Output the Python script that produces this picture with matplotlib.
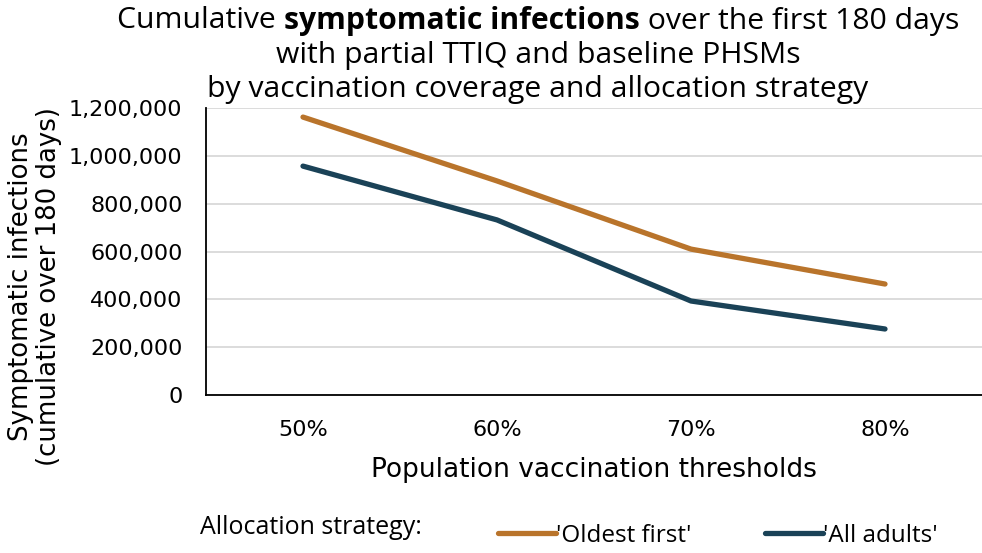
import numpy as np
import matplotlib
matplotlib.use("Agg")
import matplotlib.pyplot as plt
from matplotlib.lines import Line2D

plt.rcParams['font.family'] = ['DejaVu Sans']
narrow = ['Open Sans', 'DejaVu Sans']

# data
thresholds = ['50%', '60%', '70%', '80%']
oldest_first = [1162000, 895000, 610000, 464000]
all_adults = [957000, 732000, 393000, 276000]
series_names = ["'Oldest first'", "'All adults'"]
colors = ['#B9742B', '#1A4257']

fig = plt.figure(figsize=(9.82, 5.53), dpi=100)
ax = fig.add_axes([206 / 982, 1 - 395 / 553, (982 - 206) / 982, (395 - 108) / 553])

x = np.arange(len(thresholds))
ax.plot(x, oldest_first, color=colors[0], lw=3.8, solid_capstyle='round', solid_joinstyle='round')
ax.plot(x, all_adults, color=colors[1], lw=3.8, solid_capstyle='round', solid_joinstyle='round')

ax.set_xlim(-0.5, 3.5)
ax.set_ylim(0, 1200000)
ax.set_yticks(np.arange(0, 1200001, 200000))
ax.set_yticklabels([f'{v:,}' for v in range(0, 1200001, 200000)], fontsize=16)
ax.set_xticks(x)
ax.set_xticklabels(thresholds, fontsize=16)
ax.tick_params(axis='y', length=0, pad=17)
ax.tick_params(axis='x', length=0, pad=18)
ax.yaxis.grid(True, color='#d9d9d9', lw=1.3)
ax.set_axisbelow(True)
for s in ['top', 'right']:
    ax.spines[s].set_visible(False)
ax.spines['left'].set_linewidth(1.3)
ax.spines['bottom'].set_linewidth(1.3)

ax.set_xlabel('Population vaccination thresholds', fontsize=19, labelpad=12)
ax.set_ylabel('Symptomatic infections\n(cumulative over 180 days)', fontsize=18.7,
              linespacing=1.1, va='center')
ax.yaxis.set_label_coords((35 - 206) / 776, (395 - 287) / 287)

# title, with the middle part of line 1 in bold
fig.canvas.draw()
r = fig.canvas.get_renderer()
tsize = 21.7
parts = [('Cumulative ', 'normal'), ('symptomatic infections', 'bold'),
         (' over the first 180 days', 'normal')]
widths = []
for s, w in parts:
    t = fig.text(0, 0, s.replace(' ', '\u00a0'), fontsize=tsize, fontweight=w, family=narrow)
    widths.append(t.get_window_extent(r).width)
    t.remove()
cx = 538
xpos = cx - sum(widths) / 2
for (s, w), wd in zip(parts, widths):
    fig.text(xpos / 982, 1 - 21 / 553, s.replace(' ', '\u00a0'), fontsize=tsize,
             fontweight=w, va='center', ha='left', family=narrow)
    xpos += wd
fig.text(cx / 982, 1 - 55 / 553, 'with partial TTIQ and baseline PHSMs',
         fontsize=tsize, ha='center', va='center', family=narrow)
fig.text(cx / 982, 1 - 89 / 553, 'by vaccination coverage and allocation strategy',
         fontsize=tsize, ha='center', va='center', family=narrow)

# legend
fig.text(200 / 982, 1 - 528 / 553, 'Allocation strategy:', fontsize=18, va='center', family=narrow)
handles = [Line2D([], [], color=c, lw=3.8, solid_capstyle='round') for c in colors]
fig.legend(handles, series_names, loc='center left', bbox_to_anchor=(476 / 982, 1 - 536 / 553),
           ncol=2, frameon=False, handlelength=2.4, handletextpad=0.0,
           columnspacing=3.0, prop={'family': narrow, 'size': 17.5})

fig.savefig('out.png', dpi=100)
